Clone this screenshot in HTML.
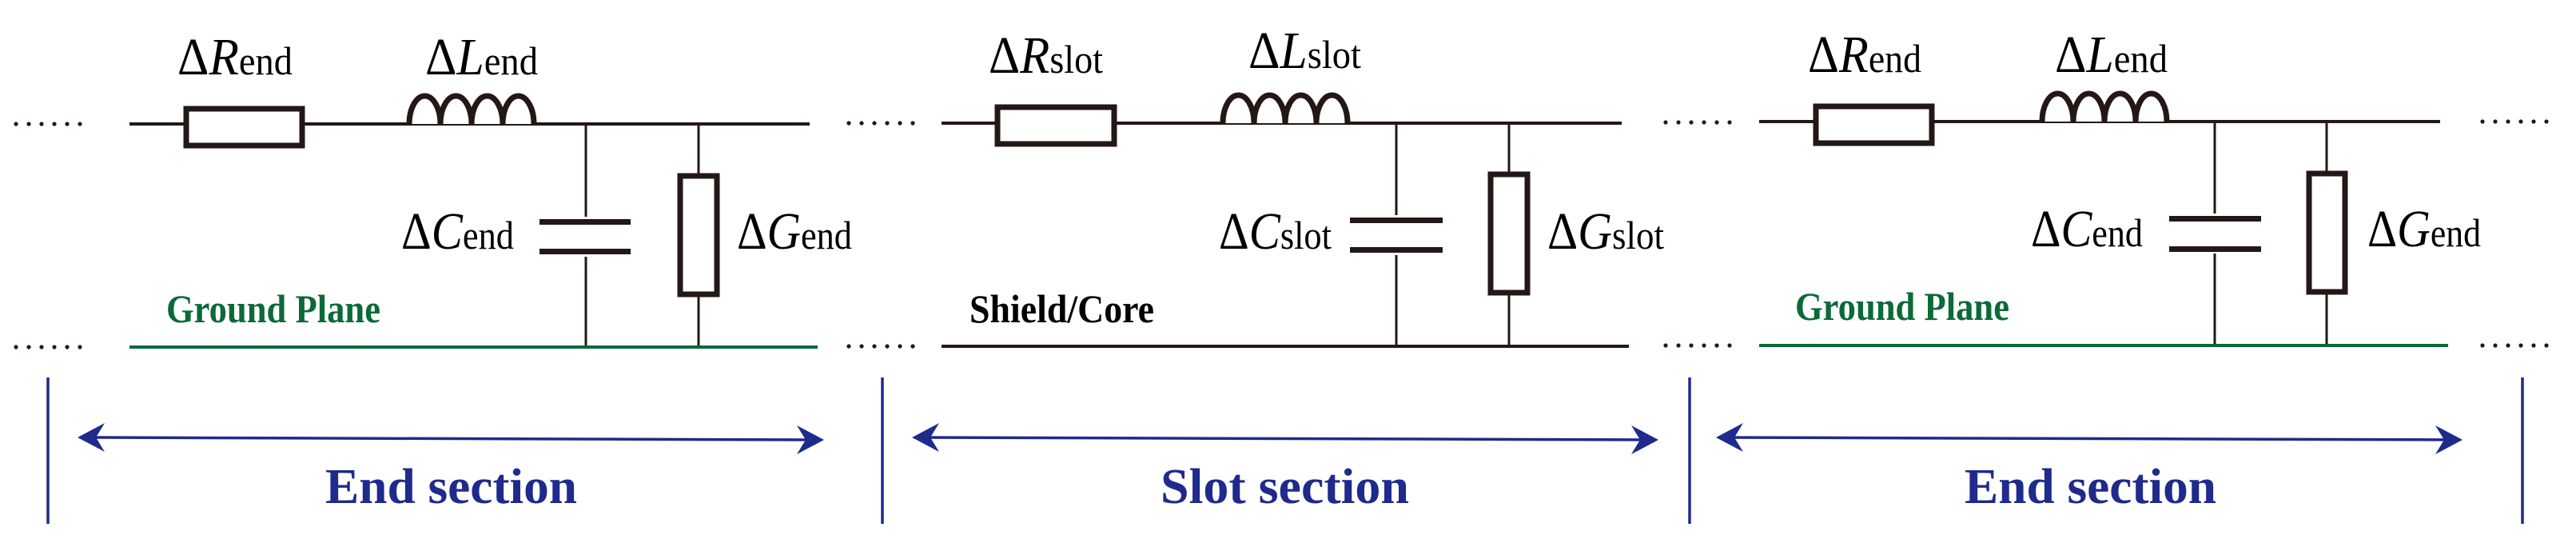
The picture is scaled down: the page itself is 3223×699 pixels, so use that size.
<!DOCTYPE html>
<html><head><meta charset="utf-8"><style>
html,body{margin:0;padding:0;background:#fff;}
svg{display:block;}
.lab{font-family:"Liberation Serif",serif;fill:#000;}
.gp{font-family:"Liberation Serif",serif;font-weight:bold;fill:#0b6a38;}
.sc{font-family:"Liberation Serif",serif;font-weight:bold;fill:#000;}
.sec{font-family:"Liberation Serif",serif;font-weight:bold;fill:#1e2a8c;}
</style></head><body>
<svg width="3223" height="699" viewBox="0 0 3223 699" xmlns="http://www.w3.org/2000/svg">
<defs>
<g id="dots"><circle cx="0" cy="0" r="2.6"/><circle cx="16" cy="0" r="2.6"/><circle cx="32" cy="0" r="2.6"/><circle cx="48" cy="0" r="2.6"/><circle cx="64" cy="0" r="2.6"/><circle cx="80" cy="0" r="2.6"/></g>
</defs>
<g fill="#231815">
<use href="#dots" x="20" y="155"/><use href="#dots" x="20" y="434"/>
<use href="#dots" x="1062" y="154"/><use href="#dots" x="1062" y="433"/>
<use href="#dots" x="2084" y="153"/><use href="#dots" x="2084" y="432"/>
<use href="#dots" x="3106" y="152"/><use href="#dots" x="3106" y="432"/>
</g>

<!-- Section 1 -->
<g stroke="#231815" fill="none">
<line x1="162" y1="155" x2="1013" y2="155" stroke-width="4"/>
<rect x="233" y="136" width="145" height="46" fill="#fff" stroke-width="7"/>
<path d="M512 155 A19.5 35 0 0 1 551 155 A19.5 35 0 0 1 590 155 A19.5 35 0 0 1 629 155 A19.5 35 0 0 1 668 155" stroke-width="7" fill="#fff"/>
<line x1="733" y1="155" x2="733" y2="434" stroke-width="3"/>
<rect x="675" y="271" width="114" height="50" fill="#fff" stroke="none"/>
<rect x="675" y="274" width="114" height="7" fill="#231815" stroke="none"/>
<rect x="675" y="311" width="114" height="7" fill="#231815" stroke="none"/>
<line x1="874" y1="155" x2="874" y2="434" stroke-width="3"/>
<rect x="851" y="220" width="46" height="148" fill="#fff" stroke-width="7"/>
</g>
<line x1="162" y1="434" x2="1023" y2="434" stroke="#0b6a38" stroke-width="4"/>

<!-- Section 2 -->
<g stroke="#231815" fill="none">
<line x1="1178" y1="154" x2="2029" y2="154" stroke-width="4"/>
<rect x="1248" y="134" width="146" height="46" fill="#fff" stroke-width="7"/>
<path d="M1530 154 A19.5 35 0 0 1 1569 154 A19.5 35 0 0 1 1608 154 A19.5 35 0 0 1 1647 154 A19.5 35 0 0 1 1686 154" stroke-width="7" fill="#fff"/>
<line x1="1747" y1="154" x2="1747" y2="433" stroke-width="3"/>
<rect x="1689" y="269" width="116" height="50" fill="#fff" stroke="none"/>
<rect x="1689" y="272" width="116" height="7" fill="#231815" stroke="none"/>
<rect x="1689" y="309" width="116" height="7" fill="#231815" stroke="none"/>
<line x1="1888" y1="154" x2="1888" y2="433" stroke-width="3"/>
<rect x="1865" y="218" width="46" height="148" fill="#fff" stroke-width="7"/>
<line x1="1178" y1="433" x2="2038" y2="433" stroke-width="4"/>
</g>

<!-- Section 3 -->
<g stroke="#231815" fill="none">
<line x1="2201" y1="152" x2="3053" y2="152" stroke-width="4"/>
<rect x="2272" y="133" width="145" height="46" fill="#fff" stroke-width="7"/>
<path d="M2555 152 A19.5 35 0 0 1 2594 152 A19.5 35 0 0 1 2633 152 A19.5 35 0 0 1 2672 152 A19.5 35 0 0 1 2711 152" stroke-width="7" fill="#fff"/>
<line x1="2771" y1="152" x2="2771" y2="432" stroke-width="3"/>
<rect x="2714" y="267" width="115" height="50" fill="#fff" stroke="none"/>
<rect x="2714" y="270" width="115" height="7" fill="#231815" stroke="none"/>
<rect x="2714" y="308" width="115" height="7" fill="#231815" stroke="none"/>
<line x1="2911" y1="152" x2="2911" y2="432" stroke-width="3"/>
<rect x="2889" y="217" width="45" height="148" fill="#fff" stroke-width="7"/>
</g>
<line x1="2201" y1="432" x2="3063" y2="432" stroke="#0b6a38" stroke-width="4"/>

<!-- Labels -->
<g class="lab">
<text x="222" y="93" font-size="66" textLength="144" lengthAdjust="spacingAndGlyphs">Δ<tspan font-style="italic">R</tspan><tspan font-size="50">end</tspan></text>
<text x="532" y="93" font-size="66" textLength="141" lengthAdjust="spacingAndGlyphs">Δ<tspan font-style="italic">L</tspan><tspan font-size="50">end</tspan></text>
<text x="502" y="311" font-size="66" textLength="141" lengthAdjust="spacingAndGlyphs">Δ<tspan font-style="italic">C</tspan><tspan font-size="50">end</tspan></text>
<text x="922" y="311" font-size="66" textLength="144" lengthAdjust="spacingAndGlyphs">Δ<tspan font-style="italic">G</tspan><tspan font-size="50">end</tspan></text>

<text x="1237" y="91" font-size="66" textLength="143" lengthAdjust="spacingAndGlyphs">Δ<tspan font-style="italic">R</tspan><tspan font-size="50">slot</tspan></text>
<text x="1562" y="85" font-size="66" textLength="141" lengthAdjust="spacingAndGlyphs">Δ<tspan font-style="italic">L</tspan><tspan font-size="50">slot</tspan></text>
<text x="1525" y="311" font-size="66" textLength="141" lengthAdjust="spacingAndGlyphs">Δ<tspan font-style="italic">C</tspan><tspan font-size="50">slot</tspan></text>
<text x="1936" y="311" font-size="66" textLength="146" lengthAdjust="spacingAndGlyphs">Δ<tspan font-style="italic">G</tspan><tspan font-size="50">slot</tspan></text>

<text x="2262" y="90" font-size="66" textLength="142" lengthAdjust="spacingAndGlyphs">Δ<tspan font-style="italic">R</tspan><tspan font-size="50">end</tspan></text>
<text x="2571" y="90" font-size="66" textLength="141" lengthAdjust="spacingAndGlyphs">Δ<tspan font-style="italic">L</tspan><tspan font-size="50">end</tspan></text>
<text x="2541" y="308" font-size="66" textLength="140" lengthAdjust="spacingAndGlyphs">Δ<tspan font-style="italic">C</tspan><tspan font-size="50">end</tspan></text>
<text x="2962" y="308" font-size="66" textLength="142" lengthAdjust="spacingAndGlyphs">Δ<tspan font-style="italic">G</tspan><tspan font-size="50">end</tspan></text>
</g>

<text class="gp" x="208" y="403" font-size="50" textLength="268" lengthAdjust="spacingAndGlyphs">Ground Plane</text>
<text class="sc" x="1213" y="403" font-size="50" textLength="231" lengthAdjust="spacingAndGlyphs">Shield/Core</text>
<text class="gp" x="2246" y="400" font-size="50" textLength="268" lengthAdjust="spacingAndGlyphs">Ground Plane</text>

<!-- Section markers -->
<g stroke="#1e2a8c" stroke-width="3.5">
<line x1="60" y1="472" x2="60" y2="655"/>
<line x1="1104" y1="472" x2="1104" y2="655"/>
<line x1="2114" y1="472" x2="2114" y2="655"/>
<line x1="3156" y1="472" x2="3156" y2="655"/>
<line x1="110" y1="547" x2="1020" y2="550"/>
<line x1="1154" y1="547" x2="2064" y2="550"/>
<line x1="2160" y1="547" x2="3070" y2="550"/>
</g>
<g fill="#1e2a8c">
<path d="M97 547 L131 529 L120 547 L131 565 Z"/>
<path d="M1031 550 L997 532 L1008 550 L997 568 Z"/>
<path d="M1141 547 L1175 529 L1164 547 L1175 565 Z"/>
<path d="M2075 550 L2041 532 L2052 550 L2041 568 Z"/>
<path d="M2147 547 L2181 529 L2170 547 L2181 565 Z"/>
<path d="M3081 550 L3047 532 L3058 550 L3047 568 Z"/>
</g>
<text class="sec" x="407" y="629" font-size="62" textLength="315" lengthAdjust="spacingAndGlyphs">End section</text>
<text class="sec" x="1452" y="629" font-size="62" textLength="311" lengthAdjust="spacingAndGlyphs">Slot section</text>
<text class="sec" x="2458" y="629" font-size="62" textLength="315" lengthAdjust="spacingAndGlyphs">End section</text>
</svg>
</body></html>
